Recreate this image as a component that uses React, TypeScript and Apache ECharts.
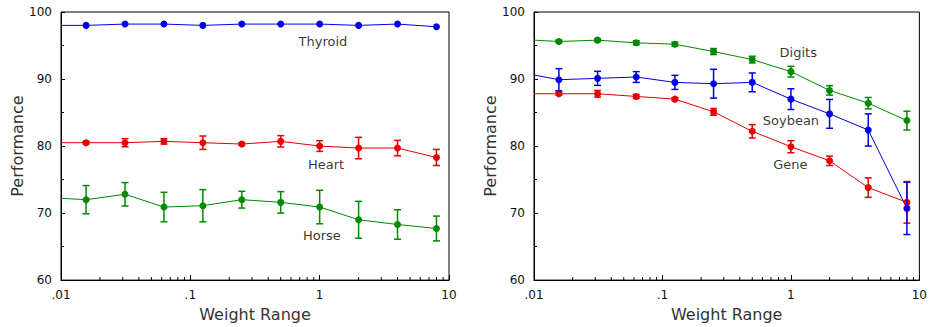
import React, { useEffect, useRef } from "react";
import * as echarts from "echarts";

// Weight range values (x) for the measured points
const weights = [1 / 64, 1 / 32, 1 / 16, 1 / 8, 1 / 4, 1 / 2, 1, 2, 4, 8];
// leftmost line start (weight range 0, shown at the axis minimum)
const startWeight = 0.01;

// Left panel
const thyroid = [98.0, 98.2, 98.2, 98.0, 98.2, 98.2, 98.2, 98.0, 98.2, 97.8];
const thyroidErr = [0, 0, 0, 0, 0, 0, 0, 0, 0, 0];
const thyroidStart = 98.0;

const heart = [80.5, 80.5, 80.7, 80.5, 80.3, 80.7, 80.0, 79.7, 79.7, 78.3];
const heartErr = [0.2, 0.6, 0.4, 1.0, 0.2, 0.85, 0.8, 1.6, 1.15, 1.2];
const heartStart = 80.5;

const horse = [72.0, 72.8, 70.9, 71.1, 72.0, 71.6, 70.9, 69.0, 68.3, 67.7];
const horseErr = [2.1, 1.75, 2.2, 2.4, 1.25, 1.6, 2.5, 2.75, 2.2, 1.85];
const horseStart = 72.2;

// Right panel
const digits = [95.6, 95.8, 95.4, 95.2, 94.1, 92.9, 91.1, 88.3, 86.4, 83.8];
const digitsErr = [0.2, 0.2, 0.3, 0.3, 0.45, 0.5, 0.8, 0.7, 0.85, 1.4];
const digitsStart = 95.8;

const soybean = [89.9, 90.1, 90.3, 89.5, 89.3, 89.5, 87.0, 84.8, 82.4, 70.7];
const soybeanErr = [1.65, 1.05, 0.8, 1.05, 2.15, 1.4, 1.55, 2.15, 2.4, 3.9];
const soybeanStart = 90.6;

const gene = [87.8, 87.8, 87.4, 87.0, 85.1, 82.2, 79.9, 77.8, 73.8, 71.6];
const geneErr = [0.2, 0.5, 0.3, 0.2, 0.5, 1.0, 0.9, 0.7, 1.45, 3.1];
const geneStart = 87.8;

// Series name labels placed in data space: [x, y]
const leftLabels = [
  { name: "Thyroid", x: 1.06, y: 95.6 },
  { name: "Heart", x: 1.12, y: 77.2 },
  { name: "Horse", x: 1.04, y: 66.6 },
];
const rightLabels = [
  { name: "Digits", x: 1.14, y: 94.0 },
  { name: "Soybean", x: 1.0, y: 83.8 },
  { name: "Gene", x: 0.99, y: 77.2 },
];

// Minor log ticks (2..9 per decade)
const minorTickValues: number[] = [];
for (let d = -2; d <= 0; d++) {
  for (let k = 2; k <= 9; k++) minorTickValues.push(k * Math.pow(10, d));
}

const BLUE = "#0000e8";
const RED = "#e80000";
const GREEN = "#008a00";
const FONT = "DejaVu Sans";

function lineSeries(idx: number, values: number[], start: number, color: string) {
  return {
    type: "line",
    xAxisIndex: idx,
    yAxisIndex: idx,
    data: [
      { value: [startWeight, start], symbol: "none" },
      ...values.map((v, i) => ({ value: [weights[i], v] })),
    ],
    symbol: "circle",
    symbolSize: 7,
    lineStyle: { color, width: 1 },
    itemStyle: { color },
    z: 3,
  };
}

function errorSeries(idx: number, values: number[], errs: number[], color: string) {
  return {
    type: "custom",
    xAxisIndex: idx,
    yAxisIndex: idx,
    data: values
      .map((v, i) => [weights[i], v - errs[i], v + errs[i]])
      .filter((d, i) => errs[i] > 0),
    encode: { x: 0, y: [1, 2] },
    z: 4,
    renderItem: (params: any, api: any) => {
      const x = api.value(0);
      const lo = api.coord([x, api.value(1)]);
      const hi = api.coord([x, api.value(2)]);
      const w = 3.5;
      const style = { stroke: color, lineWidth: 1.5, fill: "none" };
      return {
        type: "group",
        children: [
          { type: "line", shape: { x1: lo[0], y1: lo[1], x2: hi[0], y2: hi[1] }, style },
          { type: "line", shape: { x1: lo[0] - w, y1: lo[1], x2: lo[0] + w, y2: lo[1] }, style },
          { type: "line", shape: { x1: hi[0] - w, y1: hi[1], x2: hi[0] + w, y2: hi[1] }, style },
        ],
      };
    },
  };
}

function minorTickSeries(idx: number) {
  return {
    type: "custom",
    xAxisIndex: idx,
    yAxisIndex: idx,
    data: minorTickValues.map((v) => [v, 60]),
    encode: { x: 0, y: 1 },
    silent: true,
    z: 5,
    clip: false,
    renderItem: (params: any, api: any) => {
      const p = api.coord([api.value(0), api.value(1)]);
      return {
        type: "line",
        shape: { x1: p[0], y1: p[1], x2: p[0], y2: p[1] - 3 },
        style: { stroke: "#000", lineWidth: 1 },
      };
    },
  };
}

function labelSeries(idx: number, labels: { name: string; x: number; y: number }[]) {
  return {
    type: "scatter",
    xAxisIndex: idx,
    yAxisIndex: idx,
    symbolSize: 0,
    silent: true,
    z: 6,
    data: labels.map((l) => ({ name: l.name, value: [l.x, l.y] })),
    label: {
      show: true,
      position: "inside",
      formatter: (p: any) => p.name,
      color: "#000",
      fontSize: 13,
      fontFamily: FONT,
    },
  };
}

const xLabelFormatter = (v: number) => {
  const e = Math.round(Math.log10(v));
  if (e < 0) return "." + "0".repeat(-e - 1) + "1";
  return String(Math.pow(10, e));
};

function makeXAxis(idx: number) {
  return {
    type: "log",
    gridIndex: idx,
    logBase: 10,
    min: 0.01,
    max: 10,
    name: "Weight Range",
    nameLocation: "middle",
    nameGap: 25,
    nameTextStyle: { fontSize: 16, fontFamily: FONT, color: "#333", verticalAlign: "top" },
    axisLine: { show: true, lineStyle: { color: "#000", width: 1 } },
    axisTick: { show: true, inside: true, length: 5, lineStyle: { color: "#000" } },
    minorTick: { show: false },
    splitLine: { show: false },
    axisLabel: { formatter: xLabelFormatter, fontSize: 12, fontFamily: FONT, color: "#111", margin: 9 },
  };
}

function makeYAxis(idx: number) {
  return {
    type: "value",
    gridIndex: idx,
    min: 60,
    max: 100,
    interval: 10,
    name: "Performance",
    nameLocation: "middle",
    nameGap: 36,
    nameTextStyle: { fontSize: 16, fontFamily: FONT, color: "#333" },
    axisLine: { show: true, lineStyle: { color: "#000", width: 1 } },
    axisTick: { show: true, inside: true, length: 4, lineStyle: { color: "#000" } },
    minorTick: { show: true, splitNumber: 2, length: 3, lineStyle: { color: "#000" } },
    splitLine: { show: false },
    axisLabel: { fontSize: 12, fontFamily: FONT, color: "#111", margin: 9 },
  };
}

export default function App() {
  const ref = useRef<HTMLDivElement>(null);
  useEffect(() => {
    if (!ref.current) return;
    const chart = echarts.init(ref.current, null, { renderer: "svg" });
    chart.setOption({
      animation: false,
      backgroundColor: "#fff",
      grid: [
        { left: 61, right: 481, top: 12, bottom: 46, show: true, borderColor: "#000", borderWidth: 1, backgroundColor: "transparent" },
        { left: 534, right: 8, top: 12, bottom: 46, show: true, borderColor: "#000", borderWidth: 1, backgroundColor: "transparent" },
      ],
      xAxis: [makeXAxis(0), makeXAxis(1)],
      yAxis: [makeYAxis(0), makeYAxis(1)],
      series: [
        lineSeries(0, thyroid, thyroidStart, BLUE),
        errorSeries(0, thyroid, thyroidErr, BLUE),
        lineSeries(0, heart, heartStart, RED),
        errorSeries(0, heart, heartErr, RED),
        lineSeries(0, horse, horseStart, GREEN),
        errorSeries(0, horse, horseErr, GREEN),
        minorTickSeries(0),
        labelSeries(0, leftLabels),
        lineSeries(1, digits, digitsStart, GREEN),
        errorSeries(1, digits, digitsErr, GREEN),
        lineSeries(1, gene, geneStart, RED),
        errorSeries(1, gene, geneErr, RED),
        lineSeries(1, soybean, soybeanStart, BLUE),
        errorSeries(1, soybean, soybeanErr, BLUE),
        minorTickSeries(1),
        labelSeries(1, rightLabels),
      ],
    });
    return () => chart.dispose();
  }, []);
  return (
    <div
      ref={ref}
      style={{ position: "fixed", left: 0, top: 0, width: 930, height: 327, background: "#fff" }}
    />
  );
}
